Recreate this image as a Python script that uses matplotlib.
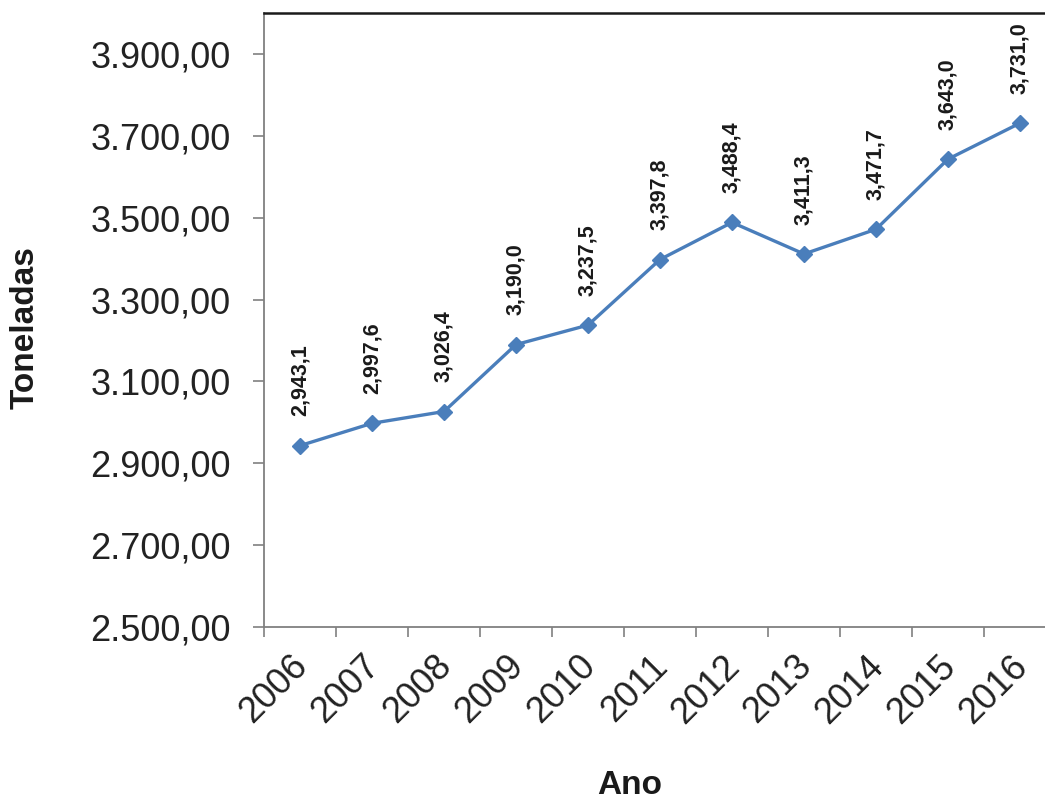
import matplotlib
matplotlib.use("Agg")
import matplotlib.pyplot as plt
import matplotlib.transforms as mtransforms
from matplotlib.ticker import FixedLocator, FuncFormatter

plt.rcParams['font.family'] = ['Liberation Sans', 'DejaVu Sans']

years = ['2006', '2007', '2008', '2009', '2010', '2011',
         '2012', '2013', '2014', '2015', '2016']
tons = [2943.1, 2997.6, 3026.4, 3190.0, 3237.5, 3397.8,
        3488.4, 3411.3, 3471.7, 3643.0, 3731.0]
y_ticks = [2500, 2700, 2900, 3100, 3300, 3500, 3700, 3900]

line_color = '#4A7EBB'

fig = plt.figure(figsize=(10.45, 8.02), dpi=100)
ax = fig.add_axes([264 / 1045, 175 / 802, 792 / 1045, 614 / 802])

x = list(range(len(years)))
ax.plot(x, tons, color=line_color, lw=2.4, marker='D', markersize=8.5,
        markerfacecolor=line_color, markeredgecolor=line_color, zorder=3)


def point_label(v):
    # thousands and decimals both separated with commas
    return f"{v:,.1f}".replace('.', ',')


for xi, v in zip(x, tons):
    ax.annotate(point_label(v), (xi, v), xytext=(0, 21), textcoords='offset points',
                rotation=90, ha='center', va='bottom', fontsize=15.5,
                fontweight='bold', color='#1a1a1a')

ax.set_xlim(-0.5, len(years) - 0.5)
ax.set_ylim(2500, 4000)

# category boundaries carry the tick marks, category centres carry labels
ax.xaxis.set_major_locator(FixedLocator([i - 0.5 for i in range(len(years) + 1)]))
ax.xaxis.set_major_formatter(FuncFormatter(lambda v, p: ''))
ax.set_xticks(x, years, minor=True)
ax.tick_params(axis='x', which='major', length=7.5, width=1.2, color='#808080', direction='out')
ax.tick_params(axis='x', which='minor', length=0, pad=4, labelsize=26, labelcolor='#222222')
shift = mtransforms.ScaledTranslation(-10 / 100, -16 / 100, fig.dpi_scale_trans)
for lbl in ax.get_xticklabels(minor=True):
    lbl.set_rotation(45)
    lbl.set_ha('right')
    lbl.set_va('top')
    lbl.set_rotation_mode('anchor')
    lbl.set_transform(lbl.get_transform() + shift)

ax.set_yticks(y_ticks)
ax.yaxis.set_major_formatter(FuncFormatter(
    lambda v, p: f"{v:,.2f}".replace(',', '#').replace('.', ',').replace('#', '.')))
ax.tick_params(axis='y', length=8, width=1.2, color='#808080', direction='out',
               pad=16, labelsize=26, labelcolor='#222222')

for side in ('left', 'bottom'):
    ax.spines[side].set_color('#808080')
    ax.spines[side].set_linewidth(1.3)
ax.spines['top'].set_color('#1a1a1a')
ax.spines['top'].set_linewidth(1.8)
ax.spines['right'].set_color('#1a1a1a')

fig.text(630 / 1045, 1 - 785 / 802, 'Ano', ha='center', va='center',
         fontsize=24, fontweight='bold', color='#1a1a1a')
fig.text(25 / 1045, 1 - 328 / 802, 'Toneladas', ha='center', va='center',
         rotation=90, fontsize=24, fontweight='bold', color='#1a1a1a')

fig.savefig('out.png', dpi=100)
